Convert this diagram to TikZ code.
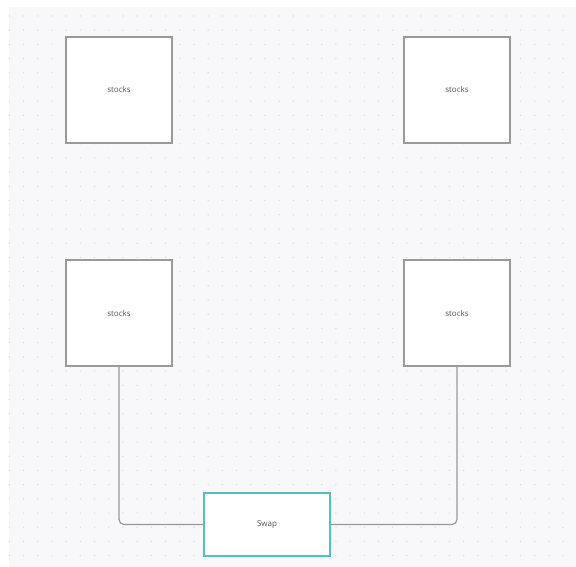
\documentclass[tikz,border=0pt]{standalone}
\usepackage{fontspec}
\setmainfont{Open Sans}
\definecolor{bgc}{HTML}{F8F8FA}
\definecolor{dotc}{HTML}{DCDCE0}
\definecolor{boxc}{HTML}{9A9A9A}
\definecolor{txtc}{HTML}{555555}
\definecolor{tealc}{HTML}{4CC3C3}
\begin{document}
\begin{tikzpicture}[x=1pt,y=-1pt,
  stockbox/.style={draw=boxc,line width=1.2pt,fill=white,minimum width=106pt,minimum height=106pt,inner sep=0pt,font=\fontsize{8}{9}\selectfont,text=txtc},
  swapbox/.style={draw=tealc,line width=1.4pt,fill=white,minimum width=126pt,minimum height=63pt,inner sep=0pt,font=\fontsize{8}{9}\selectfont,text=txtc},
  link/.style={draw=boxc,line width=1.2pt,rounded corners=5pt}]
\useasboundingbox (0,0) rectangle (576,567);
\fill[white] (0,0) rectangle (576,567);
\fill[bgc] (8.5,7) rectangle (576,567);
\foreach \i in {0,...,39}{
  \foreach \j in {0,...,38}{
    \fill[dotc] ({9.3+14.2*\i},{16+14.2*\j}) circle (0.7pt);
  }
}
\node[stockbox] (tl) at (119,90) {stocks};
\node[stockbox] (tr) at (457,90) {stocks};
\node[stockbox] (ml) at (119,313) {stocks};
\node[stockbox] (mr) at (457,313) {stocks};
\node[swapbox] (sw) at (267,524.5) {Swap};
\draw[link] (ml.south) |- (sw.west);
\draw[link] (mr.south) |- (sw.east);
\end{tikzpicture}
\end{document}
